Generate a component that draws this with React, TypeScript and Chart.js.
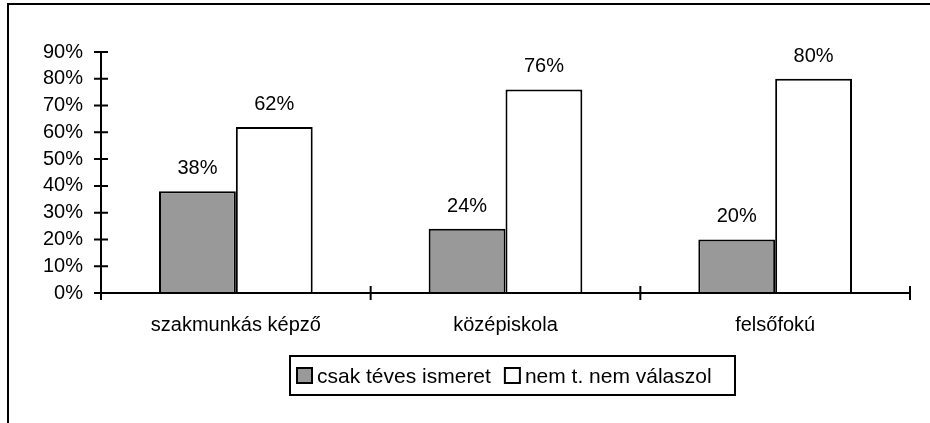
import React, { useEffect, useRef } from "react";
import { Chart, registerables } from "chart.js";

Chart.register(...registerables);

const categories = ["szakmunkás képző", "középiskola", "felsőfokú"];
const seriesNames = ["csak téves ismeret", "nem t. nem válaszol"];
const wrongOnly = [38, 24, 20];
const noAnswer = [62, 76, 80];
const yMax = 90;
const yStep = 10;

const FONT = "'Liberation Sans', Arial, sans-serif";

const axisPlugin = {
  id: "axisPlugin",
  afterDatasetsDraw(chart: any) {
    const ctx = chart.ctx;
    const x = chart.scales.x;
    const y = chart.scales.y;
    ctx.save();
    // data labels
    ctx.fillStyle = "#000";
    ctx.font = `20px ${FONT}`;
    ctx.textAlign = "center";
    ctx.textBaseline = "alphabetic";
    chart.data.datasets.forEach((ds: any, di: number) => {
      const meta = chart.getDatasetMeta(di);
      meta.data.forEach((el: any, i: number) => {
        ctx.fillText(ds.data[i] + "%", el.x, el.y - 17);
      });
    });
    // axes
    ctx.strokeStyle = "#000";
    ctx.lineWidth = 2;
    const y0 = y.getPixelForValue(0);
    const yTop = y.getPixelForValue(yMax);
    ctx.beginPath();
    ctx.moveTo(x.left, yTop);
    ctx.lineTo(x.left, y0);
    ctx.moveTo(x.left, y0);
    ctx.lineTo(x.right, y0);
    y.ticks.forEach((t: any) => {
      const py = y.getPixelForValue(t.value);
      ctx.moveTo(x.left - 7, py);
      ctx.lineTo(x.left + 7, py);
    });
    const n = chart.data.labels.length;
    for (let i = 0; i <= n; i++) {
      const px = x.left + (i * (x.right - x.left)) / n;
      ctx.moveTo(px, y0 - 7);
      ctx.lineTo(px, y0 + 7);
    }
    ctx.stroke();
    ctx.restore();
  },
  afterDraw(chart: any) {
    const ctx = chart.ctx;
    ctx.save();
    const left = 290;
    const top = 356;
    const w = 445;
    const h = 39;
    ctx.strokeStyle = "#000";
    ctx.lineWidth = 2;
    ctx.strokeRect(left, top, w, h);
    ctx.font = `21px ${FONT}`;
    ctx.textAlign = "left";
    ctx.textBaseline = "alphabetic";
    let cx = left + 7;
    chart.data.datasets.forEach((ds: any) => {
      ctx.fillStyle = ds.backgroundColor;
      ctx.fillRect(cx, top + 12, 15, 15);
      ctx.lineWidth = 2;
      ctx.strokeStyle = "#000";
      ctx.strokeRect(cx, top + 12, 15, 15);
      ctx.fillStyle = "#000";
      ctx.fillText(ds.label, cx + 20, top + 27);
      cx += 20 + ctx.measureText(ds.label).width + 14;
    });
    ctx.restore();
  },
};

export default function App() {
  const ref = useRef<HTMLCanvasElement | null>(null);
  useEffect(() => {
    if (!ref.current) return;
    const chart = new Chart(ref.current, {
      type: "bar",
      data: {
        labels: categories,
        datasets: [
          {
            label: seriesNames[0],
            data: wrongOnly,
            backgroundColor: "#999999",
            borderColor: "#000",
            borderWidth: 2,
            categoryPercentage: 0.57,
            barPercentage: 1.0,
          },
          {
            label: seriesNames[1],
            data: noAnswer,
            backgroundColor: "#ffffff",
            borderColor: "#000",
            borderWidth: 2,
            categoryPercentage: 0.57,
            barPercentage: 1.0,
          },
        ],
      },
      options: {
        animation: false,
        responsive: false,
        events: [],
        layout: { padding: { left: 0, top: 52, right: 20, bottom: 70 } },
        plugins: {
          legend: { display: false },
          tooltip: { enabled: false },
        },
        scales: {
          y: {
            min: 0,
            max: yMax,
            ticks: {
              stepSize: yStep,
              autoSkip: false,
              callback: (v: any) => v + "%",
              color: "#000",
              font: { family: FONT, size: 20 },
              padding: 18,
            },
            grid: { display: false, drawTicks: false },
            border: { display: false },
            afterFit: (s: any) => {
              s.width = 101;
            },
          },
          x: {
            ticks: {
              color: "#000",
              font: { family: FONT, size: 20 },
              padding: 20,
              maxRotation: 0,
              autoSkip: false,
            },
            grid: { display: false, drawTicks: false },
            border: { display: false },
            afterFit: (s: any) => {
              s.height = 60;
            },
          },
        },
      },
      plugins: [axisPlugin],
    });
    return () => chart.destroy();
  }, []);
  return (
    <div style={{ position: "absolute", left: 0, top: 0, width: 930, height: 423, background: "#fff" }}>
      <div
        style={{
          position: "absolute",
          left: 7,
          top: 3,
          width: 923,
          height: 420,
          borderLeft: "2px solid #000",
          borderTop: "2px solid #000",
        }}
      />
      <canvas ref={ref} width={930} height={423} style={{ position: "absolute", left: 0, top: 0 }} />
    </div>
  );
}
